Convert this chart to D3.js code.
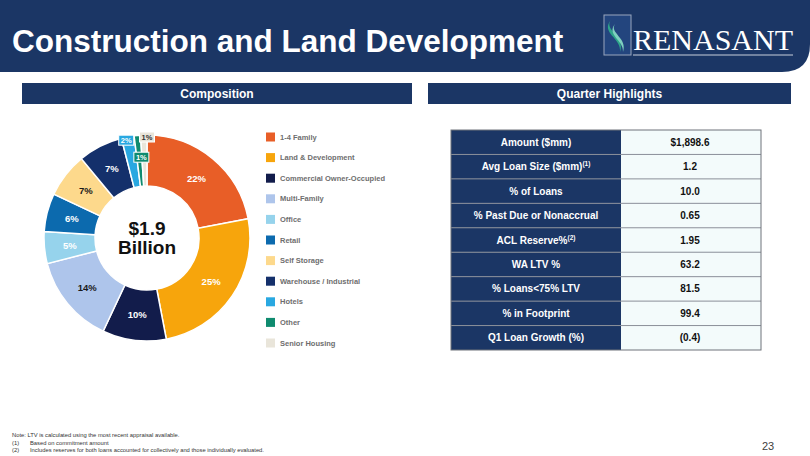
<html lang="en"><head>
<meta http-equiv="Content-Type" content="text/html; charset=UTF-8">
<title>Construction and Land Development</title>
<script type="text/javascript" src="https://cdn.jsdelivr.net/npm/d3@7"></script>
<style type="text/css">
body { margin: 0; background: #fff; }
text { font-family: Arial, "Liberation Sans", sans-serif; }
</style>
</head>
<body>
<script type="text/javascript">

var width = 810;
var height = 456;

// composition of the portfolio (%), clockwise from 12 o'clock
var categories = ["1-4 Family", "Land & Development", "Commercial Owner-Occupied", "Multi-Family",
  "Office", "Retail", "Self Storage", "Warehouse / Industrial", "Hotels", "Other", "Senior Housing"];
var shares = [22, 25, 10, 14, 5, 6, 7, 7, 2, 1, 1];
var colors = ["#e85e27", "#f7a50c", "#121c4b", "#aec5eb", "#96d3ec", "#0c6aae",
  "#fdd98c", "#14306b", "#29a8e1", "#0f8b6f", "#e9e5da"];

// quarter highlights table
var rowLabels = ["Amount ($mm)", "Avg Loan Size ($mm)", "% of Loans", "% Past Due or Nonaccrual",
  "ACL Reserve%", "WA LTV %", "% Loans<75% LTV", "% in Footprint", "Q1 Loan Growth (%)"];
var rowNotes = ["", "(1)", "", "", "(2)", "", "", "", ""];
var rowValues = ["$1,898.6", "1.2", "10.0", "0.65", "1.95", "63.2", "81.5", "99.4", "(0.4)"];

var footnotes = ["Note: LTV is calculated using the most recent appraisal available.",
  "Based on commitment amount",
  "Includes reserves for both loans accounted for collectively and those individually evaluated."];

var navy = "#1b3665";

var svg = d3.select("body")
            .append("svg")
            .attr("width", width)
            .attr("height", height);

// ---- header band ----
svg.append("path")
  .attr("d", "M0,0 H810 V44 Q810,72 782,72 H0 Z")
  .attr("fill", navy);

svg.append("text")
  .attr("x", 12)
  .attr("y", 52)
  .attr("fill", "white")
  .attr("font-size", 31.5)
  .attr("font-weight", "bold")
  .text("Construction and Land Development");

// logo
var logo = svg.append("g");
logo.append("rect")
  .attr("x", 604).attr("y", 15).attr("width", 27).attr("height", 40)
  .attr("fill", "#23457e").attr("stroke", "#9aa6bd").attr("stroke-width", 1);
logo.append("path")
  .attr("d", "M611,20 C603,30 626,36 620,52 C622,38 600,33 611,20 Z")
  .attr("fill", "#2ea58a");
logo.append("path")
  .attr("d", "M615,24 C609,33 628,38 623,52 C624,40 606,35 615,24 Z")
  .attr("fill", "#7fd0bf");
logo.append("text")
  .attr("x", 633).attr("y", 50)
  .attr("fill", "white")
  .style("font-family", "'Liberation Serif', 'DejaVu Serif', serif")
  .attr("font-size", 30)
  .attr("textLength", 160)
  .attr("lengthAdjust", "spacingAndGlyphs")
  .text("RENASANT");
logo.append("line")
  .attr("x1", 633).attr("x2", 793).attr("y1", 55).attr("y2", 55)
  .attr("stroke", "#c9cfdc").attr("stroke-width", 1);

// ---- section bars ----
var sections = [{name: "Composition", x: 22, w: 390}, {name: "Quarter Highlights", x: 428, w: 363}];
sections.forEach(function(s){
  svg.append("rect")
    .attr("x", s.x).attr("y", 83).attr("width", s.w).attr("height", 21)
    .attr("fill", navy);
  svg.append("text")
    .attr("x", s.x + s.w / 2).attr("y", 97.5)
    .attr("text-anchor", "middle")
    .attr("fill", "white")
    .attr("font-size", 12)
    .attr("font-weight", "bold")
    .text(s.name);
});

// ---- donut ----
var cx = 147, cy = 238;
var outerR = 103, innerR = 52;

var pie = d3.pie().sort(null).value(function(d){ return d; });
var arcs = pie(shares);
var arc = d3.arc().innerRadius(innerR).outerRadius(outerR);
var color = d3.scaleOrdinal().domain(categories).range(colors);

var donut = svg.append("g").attr("transform", "translate(" + cx + "," + cy + ")");

donut.selectAll("path")
  .data(arcs).enter()
  .append("path")
  .attr("d", arc)
  .attr("fill", function(d, i){ return color(categories[i]); })
  .attr("stroke", "white")
  .attr("stroke-width", 1.5);

var darkLabels = ["Multi-Family", "Self Storage", "Senior Housing"];

// big slices: label at the centroid
donut.selectAll(".pct")
  .data(arcs.filter(function(d){ return d.data >= 3; })).enter()
  .append("text")
  .attr("class", "pct")
  .attr("transform", function(d){ return "translate(" + arc.centroid(d) + ")"; })
  .attr("text-anchor", "middle")
  .attr("dy", "0.35em")
  .attr("font-size", 9.5)
  .attr("font-weight", "bold")
  .attr("fill", function(d){ return darkLabels.indexOf(categories[d.index]) >= 0 ? "#1a1a1a" : "white"; })
  .text(function(d){ return d.data + "%"; });

// small slices: boxed callouts near the top
var callout = {8: {r: 100, a: -12}, 9: {r: 81, a: -4}, 10: {r: 101, a: 0}};
arcs.filter(function(d){ return d.data < 3; }).forEach(function(d){
  var c = callout[d.index];
  var rad = c.a * Math.PI / 180;
  var x = c.r * Math.sin(rad), y = -c.r * Math.cos(rad);
  var g = donut.append("g").attr("transform", "translate(" + x + "," + y + ")");
  g.append("rect")
    .attr("x", -7.5).attr("y", -5).attr("width", 15).attr("height", 10)
    .attr("fill", color(categories[d.index]))
    .attr("stroke", "white").attr("stroke-width", 1);
  g.append("text")
    .attr("text-anchor", "middle")
    .attr("dy", "0.35em")
    .attr("font-size", 7.5)
    .attr("font-weight", "bold")
    .attr("fill", darkLabels.indexOf(categories[d.index]) >= 0 ? "#333" : "white")
    .text(d.data + "%");
});

donut.append("text")
  .attr("text-anchor", "middle").attr("y", -3)
  .attr("font-size", 19).attr("font-weight", "bold").attr("fill", "#111")
  .text("$1.9");
donut.append("text")
  .attr("text-anchor", "middle").attr("y", 16)
  .attr("font-size", 19).attr("font-weight", "bold").attr("fill", "#111")
  .text("Billion");

// ---- legend ----
var legendY = d3.scalePoint().domain(categories).range([137, 343]);
var legend = svg.selectAll(".legend")
  .data(categories).enter()
  .append("g")
  .attr("class", "legend")
  .attr("transform", function(d){ return "translate(266," + legendY(d) + ")"; });
legend.append("rect")
  .attr("x", 0).attr("y", -4.5).attr("width", 9).attr("height", 9)
  .attr("fill", function(d){ return color(d); });
legend.append("text")
  .attr("x", 14).attr("dy", "0.35em")
  .attr("font-size", 7.5).attr("font-weight", "bold").attr("fill", "#6e6e6e")
  .text(function(d){ return d; });

// ---- table ----
var tx0 = 451, tx1 = 621, tx2 = 761;
var rowY = d3.scaleBand().domain(d3.range(rowLabels.length)).range([130, 350]);

var table = svg.append("g");
table.selectAll(".lcell")
  .data(rowLabels).enter()
  .append("rect")
  .attr("x", tx0).attr("y", function(d, i){ return rowY(i); })
  .attr("width", tx1 - tx0).attr("height", rowY.bandwidth())
  .attr("fill", navy);
table.selectAll(".rcell")
  .data(rowValues).enter()
  .append("rect")
  .attr("x", tx1).attr("y", function(d, i){ return rowY(i); })
  .attr("width", tx2 - tx1).attr("height", rowY.bandwidth())
  .attr("fill", "#f3fbfb");

table.selectAll(".sep")
  .data(d3.range(1, rowLabels.length)).enter()
  .append("line")
  .attr("x1", tx0).attr("x2", tx2)
  .attr("y1", function(i){ return rowY(i); })
  .attr("y2", function(i){ return rowY(i); })
  .attr("stroke", "#8a8f99").attr("stroke-width", 1);
table.append("rect")
  .attr("x", tx0).attr("y", 130).attr("width", tx2 - tx0).attr("height", 220)
  .attr("fill", "none").attr("stroke", "#6f737a").attr("stroke-width", 1);

var labelText = table.selectAll(".rowlabel")
  .data(rowLabels).enter()
  .append("text")
  .attr("x", (tx0 + tx1) / 2)
  .attr("y", function(d, i){ return rowY(i) + rowY.bandwidth() / 2; })
  .attr("dy", "0.35em")
  .attr("text-anchor", "middle")
  .attr("font-size", 10).attr("font-weight", "bold").attr("fill", "white");
labelText.append("tspan").text(function(d){ return d; });
labelText.append("tspan")
  .attr("font-size", 6.5)
  .attr("dy", "-0.6em")
  .text(function(d, i){ return rowNotes[i]; });

table.selectAll(".rowvalue")
  .data(rowValues).enter()
  .append("text")
  .attr("x", 690)
  .attr("y", function(d, i){ return rowY(i) + rowY.bandwidth() / 2; })
  .attr("dy", "0.35em")
  .attr("text-anchor", "middle")
  .attr("font-size", 10).attr("font-weight", "bold").attr("fill", "#111")
  .text(function(d){ return d; });

// ---- footnotes ----
var notes = svg.append("g").attr("font-size", 5.8).attr("fill", "#333");
notes.append("text").attr("x", 12).attr("y", 437).text(footnotes[0]);
notes.append("text").attr("x", 12).attr("y", 444.5).text("(1)");
notes.append("text").attr("x", 30).attr("y", 444.5).text(footnotes[1]);
notes.append("text").attr("x", 12).attr("y", 452).text("(2)");
notes.append("text").attr("x", 30).attr("y", 452).text(footnotes[2]);

svg.append("text")
  .attr("x", 762).attr("y", 450)
  .attr("font-size", 11).attr("fill", "#404040")
  .text("23");

</script>
</body></html>
